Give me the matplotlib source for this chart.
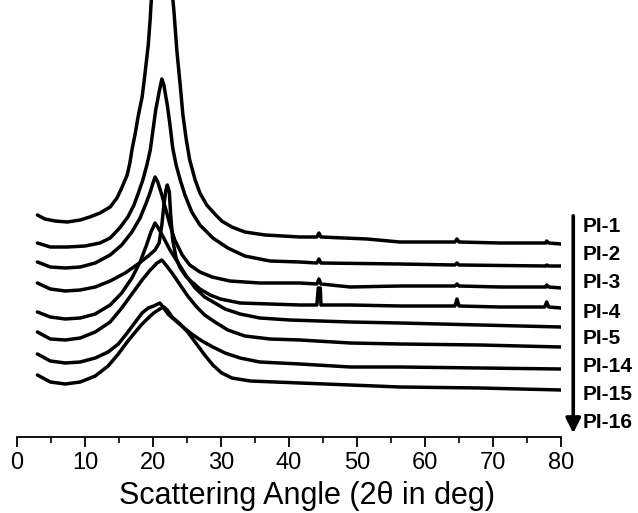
import numpy as np
import matplotlib
matplotlib.use("Agg")
import matplotlib.pyplot as plt

plt.rcParams['font.family'] = ['Liberation Sans', 'DejaVu Sans']

# XRD traces: 2theta (deg) and intensity (a.u., already stacked)
pi1_x = [3.0, 4.1, 5.6, 7.4, 9.3, 10.7, 12.2, 13.7, 14.7, 15.4, 16.2, 16.6, 16.9, 17.4, 17.8,
         18.4, 18.8, 19.3, 19.6, 19.7, 19.9, 21.3, 22.8, 23.1, 23.5, 24.0, 24.4, 24.9, 25.4,
         26.2, 26.9, 27.9, 29.1, 30.1, 31.6, 33.5, 36.5, 41.6, 44.1, 44.4, 44.7, 51.5, 56.3,
         64.4, 64.7, 65.0, 71.0, 77.8, 77.9, 78.2, 80.0]
pi1_y = [222, 218, 216, 215, 217, 220, 224, 230, 239, 249, 262, 274, 287, 304, 320,
         340, 362, 392, 419, 432, 447, 560, 447, 424, 387, 352, 322, 297, 277,
         257, 244, 232, 223, 216, 210, 205, 202, 200, 200, 204, 200, 198, 195,
         195, 198, 195, 194, 194, 196, 194, 193]

pi2_x = [3.0, 4.9, 7.4, 10.0, 12.2, 13.7, 15.1, 16.3, 17.2, 17.9, 18.5, 19.1, 19.6, 20.0,
         20.4, 20.9, 21.3, 21.6, 22.1, 22.5, 22.9, 23.4, 24.0, 24.7, 25.7, 26.9, 28.8, 31.0,
         33.5, 37.2, 41.6, 44.1, 44.4, 44.7, 56.3, 64.4, 64.7, 65.0, 77.8, 77.9, 78.2, 80.0]
pi2_y = [194, 190, 190, 191, 194, 199, 209, 220, 232, 245, 257, 272, 287, 307,
         327, 345, 358, 352, 332, 312, 289, 272, 257, 242, 225, 212, 199, 189,
         181, 176, 175, 174, 178, 174, 173, 172, 174, 172, 171, 172, 171, 171]

pi3_x = [3.0, 4.9, 7.1, 9.3, 11.5, 13.7, 15.4, 16.9, 18.1, 19.0, 19.6, 20.0, 20.3, 20.7,
         21.3, 21.9, 22.5, 23.2, 24.3, 25.4, 26.9, 28.7, 31.3, 35.7, 41.6, 44.1, 44.4, 44.7,
         49.0, 56.3, 64.4, 64.7, 65.0, 71.0, 77.8, 77.9, 78.2, 80.0]
pi3_y = [175, 170, 169, 170, 174, 182, 192, 205, 219, 234, 245, 254, 260, 255,
         242, 227, 212, 197, 182, 172, 165, 160, 156, 154, 154, 153, 158, 153,
         150, 151, 151, 153, 151, 150, 150, 152, 150, 149]

pi4_x = [3.0, 4.9, 7.1, 9.3, 11.5, 13.7, 15.9, 17.8, 19.3, 20.3, 20.9, 21.3, 21.6, 21.9,
         22.1, 22.4, 22.6, 22.9, 23.4, 24.0, 24.9, 25.9, 26.9, 28.4, 29.9, 32.8, 37.2, 41.6,
         44.1, 44.3, 44.6, 44.7, 49.0, 56.3, 64.4, 64.7, 65.0, 71.0, 77.6, 77.9, 78.2, 80.0]
pi4_y = [154, 148, 146, 147, 150, 156, 164, 173, 181, 187, 194, 212, 232, 247,
         252, 245, 222, 197, 179, 169, 160, 154, 148, 142, 138, 134, 133, 132,
         132, 149, 149, 132, 132, 131, 131, 138, 131, 130, 130, 135, 130, 129]

pi5_x = [3.0, 4.9, 7.1, 9.3, 11.5, 13.7, 15.4, 16.9, 18.1, 19.0, 19.7, 20.3, 20.7, 21.5,
         22.5, 23.7, 24.9, 26.2, 27.6, 29.1, 30.6, 32.8, 35.7, 40.1, 49.0, 56.3, 68.1, 80.0]
pi5_y = [125, 120, 118, 119, 123, 132, 144, 159, 175, 191, 205, 214, 210, 200,
         187, 174, 161, 149, 140, 134, 128, 123, 119, 117, 115, 114, 112, 110]

pi14_x = [3.0, 4.9, 7.1, 9.3, 11.5, 13.7, 15.4, 16.9, 18.4, 19.6, 20.6, 21.3, 21.9, 22.8,
          24.0, 25.1, 26.3, 27.6, 29.1, 31.0, 33.5, 37.2, 41.6, 49.0, 56.3, 68.1, 80.0]
pi14_y = [105, 98, 97, 99, 105, 115, 129, 143, 157, 167, 174, 177, 172, 164,
          152, 141, 131, 122, 115, 107, 101, 98, 97, 94, 93, 92, 90]

pi15_x = [3.0, 4.9, 7.1, 9.3, 11.5, 13.4, 14.9, 16.2, 17.4, 18.4, 19.3, 20.1, 21.0, 21.6,
          22.2, 23.2, 24.4, 25.7, 27.2, 28.8, 30.6, 32.8, 35.7, 41.6, 49.0, 56.3, 68.1, 80.0]
pi15_y = [83, 76, 74, 75, 79, 85, 93, 104, 115, 124, 129, 131, 134, 129,
          123, 117, 110, 103, 96, 90, 84, 79, 75, 73, 70, 70, 69, 68]

pi16_x = [3.0, 4.9, 7.1, 9.3, 11.5, 13.4, 14.9, 16.2, 17.4, 18.4, 19.3, 20.1, 21.0, 21.6,
          22.1, 22.8, 24.0, 25.1, 26.3, 27.6, 28.8, 30.1, 31.6, 34.3, 41.6, 49.0, 56.3, 68.1, 80.0]
pi16_y = [62, 55, 53, 55, 61, 71, 83, 95, 105, 113, 119, 124, 128, 130,
          127, 120, 113, 105, 94, 82, 72, 64, 59, 56, 54, 52, 50, 49, 47]

labels = ['PI-1', 'PI-2', 'PI-3', 'PI-4', 'PI-5', 'PI-14', 'PI-15', 'PI-16']
label_y = [210, 182, 154, 125, 98, 70, 42, 14]
xticks = [0, 10, 20, 30, 40, 50, 60, 70, 80]

series = [(pi1_x, pi1_y), (pi2_x, pi2_y), (pi3_x, pi3_y), (pi4_x, pi4_y),
          (pi5_x, pi5_y), (pi14_x, pi14_y), (pi15_x, pi15_y), (pi16_x, pi16_y)]

fig = plt.figure(figsize=(6.38, 5.13), dpi=100)
ax = fig.add_axes([17 / 638, 76 / 513, 544 / 638, 437 / 513])

for xs, ys in series:
    ax.plot(xs, ys, color='black', lw=2.5, solid_joinstyle='round', solid_capstyle='round')

ax.set_xlim(0, 80)
ax.set_ylim(0, 437)
for s in ['left', 'top', 'right']:
    ax.spines[s].set_visible(False)
ax.spines['bottom'].set_linewidth(1.3)
ax.set_yticks([])
ax.set_xticks(xticks)
ax.set_xticks(np.arange(5, 80, 10), minor=True)
ax.tick_params(axis='x', which='major', direction='out', length=7, width=1.3, labelsize=17, pad=4)
ax.tick_params(axis='x', which='minor', direction='out', length=4, width=1.2)

# x label placed by baseline so the descenders stay inside the picture
fig.text(307 / 638, 9 / 513, 'Scattering Angle (2\u03b8 in deg)', fontsize=22,
         ha='center', va='baseline')

# sample labels and the arrow on the right
for lab, yy in zip(labels, label_y):
    ax.text(83.2, yy, lab, fontsize=15, fontweight='bold', va='center', ha='left', clip_on=False)
ax.annotate('', xy=(81.8, 1), xytext=(81.8, 224),
            arrowprops=dict(arrowstyle='-|>', lw=2.6, color='black', mutation_scale=22),
            annotation_clip=False)

fig.savefig('out.png', dpi=100)
